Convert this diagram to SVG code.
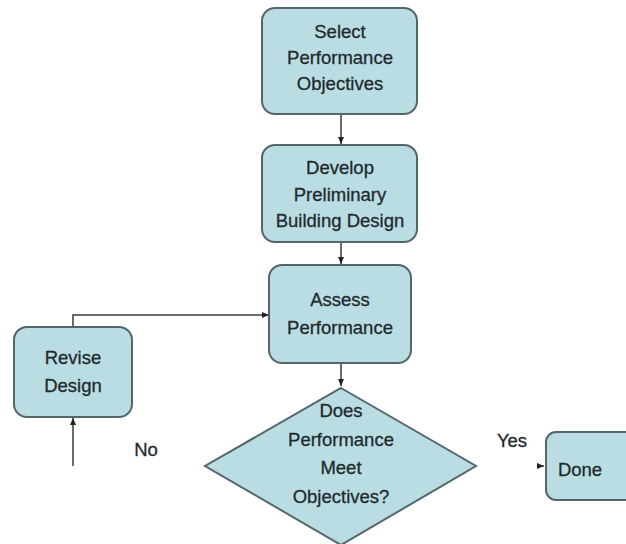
<svg xmlns="http://www.w3.org/2000/svg" width="626" height="544" viewBox="0 0 626 544">
<defs>
<style>
.n{fill:#b9dde3;stroke:#55666b;stroke-width:2}
.t{font-family:"Liberation Sans",Arial,sans-serif;font-size:18.5px;fill:#1f2a2d;stroke:#1f2a2d;stroke-width:0.3;text-anchor:middle}
.c{fill:none;stroke:#3a3a3a;stroke-width:1.5}
</style>
<marker id="a" markerWidth="8" markerHeight="8" refX="7" refY="4" orient="auto" markerUnits="userSpaceOnUse"><path d="M0,1 L7,4 L0,7 Z" fill="#222"/></marker>
</defs>
<rect width="626" height="544" fill="#fff"/>
<g id="connectors">
<line class="c" x1="341" y1="114" x2="341" y2="144" marker-end="url(#a)"/>
<line class="c" x1="341" y1="242" x2="341" y2="264" marker-end="url(#a)"/>
<polyline class="c" points="73,327 73,315 269,315" marker-end="url(#a)"/>
<line class="c" x1="341" y1="346" x2="341" y2="386" marker-end="url(#a)"/>
<line class="c" x1="73" y1="466" x2="73" y2="418" marker-end="url(#a)"/>
<line class="c" x1="539" y1="466" x2="544" y2="466" marker-end="url(#a)"/>
</g>
<g id="select">
<rect class="n" x="262" y="8" width="155" height="106" rx="13"/>
<text class="t" x="340" y="38">Select</text>
<text class="t" x="340" y="64">Performance</text>
<text class="t" x="340" y="90">Objectives</text>
</g>
<g id="develop">
<rect class="n" x="262" y="145" width="155" height="97" rx="13"/>
<text class="t" x="340" y="174">Develop</text>
<text class="t" x="340" y="201">Preliminary</text>
<text class="t" x="340" y="227">Building Design</text>
</g>
<g id="assess">
<rect class="n" x="269" y="265" width="142" height="98" rx="13"/>
<text class="t" x="340" y="306">Assess</text>
<text class="t" x="340" y="334">Performance</text>
</g>
<g id="revise">
<rect class="n" x="14" y="327" width="118" height="90" rx="13"/>
<text class="t" x="73" y="364">Revise</text>
<text class="t" x="73" y="392">Design</text>
</g>
<g id="decision">
<polygon class="n" points="341,388 476,466 341,545 205,466"/>
<text class="t" x="341" y="417">Does</text>
<text class="t" x="341" y="446">Performance</text>
<text class="t" x="341" y="474">Meet</text>
<text class="t" x="341" y="503">Objectives?</text>
</g>
<g id="done">
<rect class="n" x="546" y="432" width="95" height="68" rx="10"/>
<text class="t" x="580" y="476">Done</text>
</g>
<g id="labels">
<text class="t" x="512" y="447">Yes</text>
<text class="t" x="146" y="456">No</text>
</g>
</svg>
